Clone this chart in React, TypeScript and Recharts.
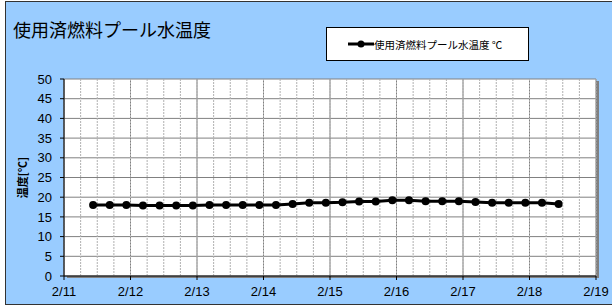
import React from "react"
import { LineChart, Line, XAxis, YAxis, CartesianGrid, Legend } from "recharts"

// hours after 2/11 0:00, one reading every 6 hours
const hours = [
  10.5, 16.5, 22.5, 28.5, 34.5, 40.5, 46.5, 52.5, 58.5, 64.5,
  70.5, 76.5, 82.5, 88.5, 94.5, 100.5, 106.5, 112.5, 118.5, 124.5,
  130.5, 136.5, 142.5, 148.5, 154.5, 160.5, 166.5, 172.5, 178.5,
]
const temps = [
  18.0, 18.0, 18.0, 17.9, 17.9, 17.9, 17.9, 18.0, 18.0, 18.0,
  18.0, 18.0, 18.3, 18.6, 18.6, 18.7, 18.9, 18.9, 19.2, 19.2,
  19.0, 19.0, 19.0, 18.8, 18.6, 18.6, 18.6, 18.6, 18.3,
]
const dayLabels = ["2/11", "2/12", "2/13", "2/14", "2/15", "2/16", "2/17", "2/18", "2/19"]
const yTicks = [0, 5, 10, 15, 20, 25, 30, 35, 40, 45, 50]

const seriesName = "使用済燃料プール水温度 ℃"

const data = hours.map((h, i) => ({ h, t: temps[i] }))
const dayTicks = dayLabels.map((_, i) => i * 24)
const minorTicks = Array.from({ length: dayLabels.length * 4 - 3 }, (_, i) => i * 6)

const numFont = "'Liberation Sans', Arial, sans-serif"
const jpFont = "'Noto Sans CJK JP', sans-serif"

const LegendBox = (props: any) => {
  const item = props.payload && props.payload[0]
  return (
    <div
      style={{
        width: 201,
        height: 32,
        background: "#fff",
        border: "1px solid #000",
        display: "flex",
        alignItems: "center",
        fontFamily: jpFont,
        fontSize: 10.5,
        color: "#000",
      }}
    >
      <svg width={26} height={10} style={{ marginLeft: 21 }}>
        <line x1={0} y1={5} x2={26} y2={5} stroke="#000" strokeWidth={3} />
        <circle cx={13} cy={5} r={3.5} fill="#000" />
      </svg>
      <span>{item ? item.value : ""}</span>
    </div>
  )
}

export default function App() {
  return (
    <div style={{ position: "absolute", left: 0, top: 0, width: 612, height: 306, overflow: "hidden" }}>
      <div
        style={{
          position: "absolute",
          left: 5,
          top: 1,
          width: 620,
          height: 302,
          background: "#99CCFF",
          border: "1px solid #333",
        }}
      />
      <div
        style={{
          position: "absolute",
          left: 67,
          top: 81,
          width: 532,
          height: 197,
          background: "#808080",
        }}
      />
      <div
        style={{
          position: "absolute",
          left: 13,
          top: 20,
          fontFamily: jpFont,
          fontSize: 18,
          lineHeight: "18px",
          color: "#000",
          whiteSpace: "nowrap",
        }}
      >
        使用済燃料プール水温度
      </div>
      <div style={{ position: "absolute", left: 0, top: 0 }}>
        <LineChart width={612} height={306} data={data} margin={{ top: 79, right: 16, bottom: 0, left: 0 }}>
          <CartesianGrid stroke="#808080" fill="#fff" strokeWidth={1} />
          <CartesianGrid
            xAxisId="minor"
            horizontal={false}
            stroke="#b0b0b0"
            strokeDasharray="2 1"
          />
          <XAxis
            xAxisId="minor"
            type="number"
            dataKey="h"
            domain={[0, 192]}
            ticks={minorTicks}
            interval={0}
            hide
          />
          <XAxis
            type="number"
            dataKey="h"
            domain={[0, 192]}
            ticks={dayTicks}
            interval={0}
            tickFormatter={(v: number) => dayLabels[Math.round(v / 24)]}
            height={30}
            tickSize={4}
            tickMargin={7}
            stroke="#000"
            tick={{ fill: "#000", fontSize: 13, fontFamily: numFont }}
          />
          <YAxis
            type="number"
            domain={[0, 50]}
            ticks={yTicks}
            interval={0}
            width={64}
            tickSize={4}
            tickMargin={8}
            stroke="#000"
            tick={{ fill: "#000", fontSize: 13, fontFamily: numFont }}
            label={{
              value: "温度[℃]",
              angle: -90,
              position: "center",
              dx: -9,
              style: { fontFamily: jpFont, fontSize: 11, fontWeight: "bold", fill: "#000" },
            }}
          />
          <Legend
            verticalAlign="middle"
            align="center"
            content={<LegendBox />}
            wrapperStyle={{ position: "absolute", left: 326, top: 27, width: 203, height: 34 }}
          />
          <Line
            name={seriesName}
            dataKey="t"
            stroke="#000"
            strokeWidth={3}
            dot={{ r: 4, fill: "#000", stroke: "#000", strokeWidth: 0 }}
            isAnimationActive={false}
          />
        </LineChart>
      </div>
    </div>
  )
}
